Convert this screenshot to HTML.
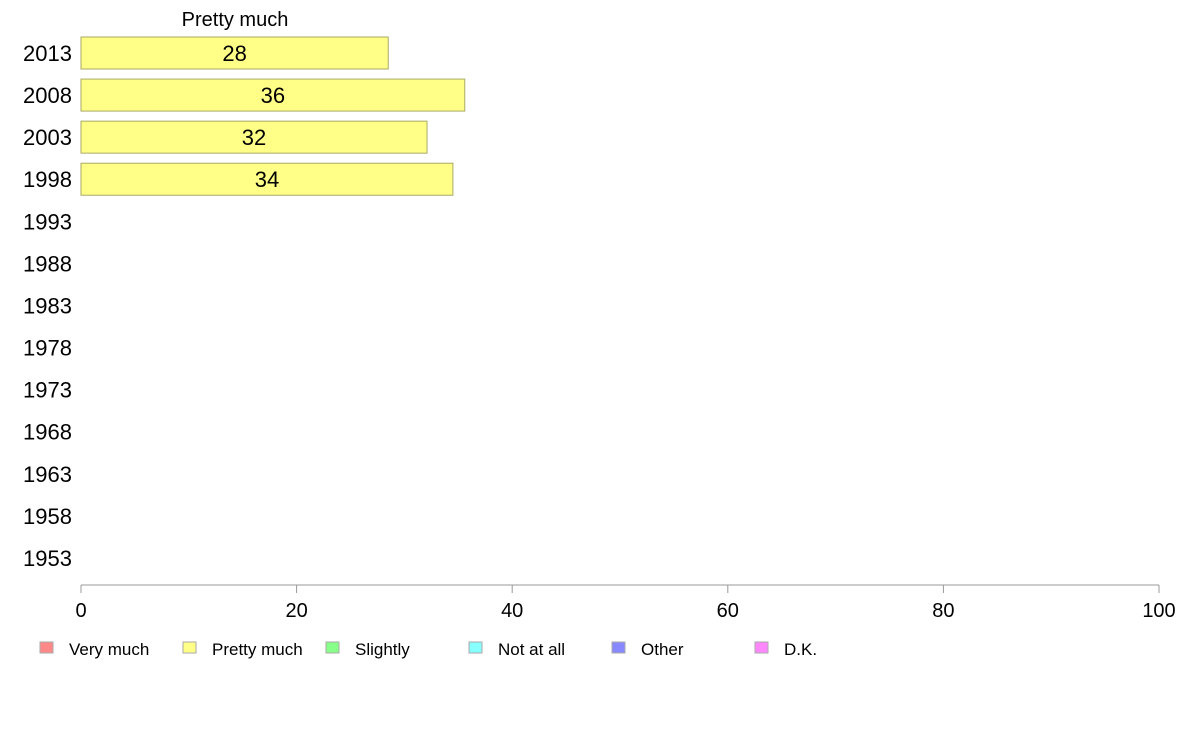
<!DOCTYPE html>
<html><head><meta charset="utf-8"><style>
html,body{margin:0;padding:0;background:#fff;}
svg{display:block;font-family:"Liberation Sans",Arial,sans-serif;}
</style></head><body>
<svg id="chart" width="1188" height="736" viewBox="0 0 1188 736"></svg>
<script>
const years = ["2013","2008","2003","1998","1993","1988","1983","1978","1973","1968","1963","1958","1953"];
const values = [28.5, 35.6, 32.1, 34.5, null, null, null, null, null, null, null, null, null];
const valueLabels = ["28","36","32","34"];
const xTicks = [0,20,40,60,80,100];
const legendLabels = ["Very much","Pretty much","Slightly","Not at all","Other","D.K."];
const legendColors = ["#ff8888","#ffff88","#88ff88","#88ffff","#8888ff","#ff88ff"];

const NS="http://www.w3.org/2000/svg";
const svg=document.getElementById('chart');
const x0=81,x1=1159;
const xs=v=>x0+(v/100)*(x1-x0);
const ys=i=>53+i*42.08;
function mk(t,a,p){const e=document.createElementNS(NS,t);for(const k in a)e.setAttribute(k,a[k]);(p||svg).appendChild(e);return e;}

const title=mk('text',{x:235,y:26,'font-size':20,'text-anchor':'middle',fill:'#000'});


title.textContent="Pretty much";

years.forEach((y,i)=>{
  const t=mk('text',{x:72,y:ys(i)+8,'font-size':22,'text-anchor':'end',fill:'#000'});
  
  
  t.textContent=y;
  const v=values[i];
  if(v!=null){
    const r=mk('rect',{x:x0,y:ys(i)-16,width:xs(v)-x0,height:32,fill:'#ffff88',stroke:'#aaaa66','stroke-width':1});
    
    
    const l=mk('text',{x:(x0+xs(v))/2,y:ys(i)+8,'font-size':22,'text-anchor':'middle',fill:'#000'});
    
    
    l.textContent=valueLabels[i];
  }
});

const ax=mk('line',{x1:x0,y1:585,x2:x1,y2:585,stroke:'#999','stroke-width':1});


xTicks.forEach(v=>{
  const tk=mk('line',{x1:xs(v),y1:585,x2:xs(v),y2:593,stroke:'#999','stroke-width':1});
  
  
  const t=mk('text',{x:xs(v),y:617,'font-size':20,'text-anchor':'middle',fill:'#000'});
  
  
  t.textContent=v;
});

legendLabels.forEach((lab,i)=>{
  const bx=40+i*143;
  const g=mk('g',{});
  
  
  mk('rect',{x:bx,y:642,width:13,height:11,fill:legendColors[i],stroke:'#aaa','stroke-width':1},g);
  const t=mk('text',{x:bx+29,y:655,'font-size':17,fill:'#000'},g);
  t.textContent=lab;
});
</script>
</body></html>
